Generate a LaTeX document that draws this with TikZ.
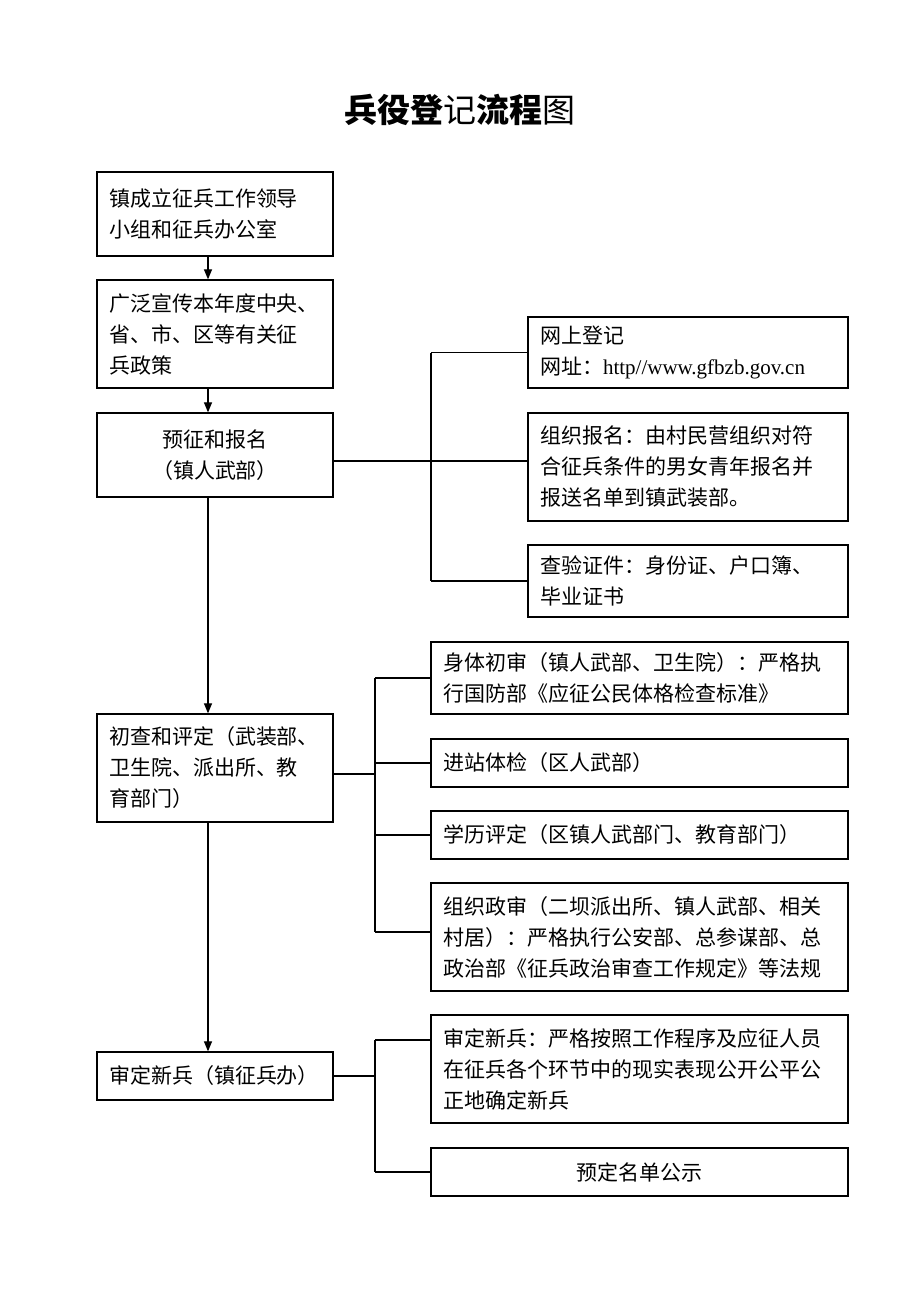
\documentclass[tikz,border=0pt]{standalone}
\usepackage{fontspec}
\setmainfont{Noto Sans CJK SC}
\newfontfamily\latin{Liberation Serif}
\usetikzlibrary{arrows.meta}
\begin{document}
\begin{tikzpicture}[x=1pt,y=-1pt,
 box/.style={draw, line width=1.3pt, inner xsep=12pt, inner ysep=0pt, align=left,
   font=\fontsize{21}{31}\selectfont},
 lbox/.style={box, minimum width=236pt, text width=212pt},
 mbox/.style={box, minimum width=320pt, text width=296pt},
 wbox/.style={box, minimum width=417pt, text width=393pt},
 link/.style={line width=1.2pt},
 arr/.style={line width=1.2pt, -{Triangle[length=10pt,width=8pt]}}]
\fill[white] (0,0) rectangle (920,1302);
\useasboundingbox (0,0) rectangle (920,1302);

\node[font=\fontsize{33}{36}\selectfont] (title) at (460,110)
  {{\bfseries 兵役登}记{\bfseries 流程}图};

% left column
\node[lbox, minimum height=84pt] (b1) at (215,214) {镇成立征兵工作领导\\小组和征兵办公室};
\node[lbox, minimum height=108pt] (b2) at (215,334) {广泛宣传本年度中央、\\省、市、区等有关征\\兵政策};
\node[lbox, minimum height=84pt, align=center] (b3) at (215,455) {预征和报名\\（镇人武部）};
\node[lbox, minimum height=108pt] (b4) at (215,768) {初查和评定（武装部、\\卫生院、派出所、教\\育部门）};
\node[lbox, minimum height=48pt] (b5) at (215,1076) {审定新兵（镇征兵办）};

\coordinate (ax) at (208,0);
\draw[arr] (b1.south -| ax) -- (b2.north -| ax);
\draw[arr] (b2.south -| ax) -- (b3.north -| ax);
\draw[arr] (b3.south -| ax) -- (b4.north -| ax);
\draw[arr] (b4.south -| ax) -- (b5.north -| ax);

% group 1
\node[mbox, minimum height=71pt] (r1) at (688,352.5) {网上登记\\网址：{\latin http//www.gfbzb.gov.cn}};
\node[mbox, minimum height=108pt] (r2) at (688,467) {组织报名：由村民营组织对符\\合征兵条件的男女青年报名并\\报送名单到镇武装部。};
\node[mbox, minimum height=72pt] (r3) at (688,581) {查验证件：身份证、户口簿、\\毕业证书};

\coordinate (t1a) at (431,352.5);
\coordinate (t1b) at (431,461);
\coordinate (t1c) at (431,581);
\draw[link] (t1a) -- (t1c);
\draw[link] (t1a) -- (r1.west);
\draw[link] (t1c) -- (r3.west);
\draw[link] (b3.east |- t1b) -- (r2.west |- t1b);

% group 2
\node[wbox, minimum height=72pt] (r4) at (639.5,678) {身体初审（镇人武部、卫生院）：严格执\\行国防部《应征公民体格检查标准》};
\node[wbox, minimum height=48pt] (r5) at (639.5,763) {进站体检（区人武部）};
\node[wbox, minimum height=48pt] (r6) at (639.5,835) {学历评定（区镇人武部门、教育部门）};
\node[wbox, minimum height=108pt] (r7) at (639.5,937) {组织政审（二坝派出所、镇人武部、相关\\村居）：严格执行公安部、总参谋部、总\\政治部《征兵政治审查工作规定》等法规};

\coordinate (t2a) at (375,678);
\coordinate (t2m) at (375,774);
\coordinate (t2b) at (375,932);
\draw[link] (t2a) -- (t2b);
\draw[link] (t2a) -- (r4.west);
\draw[link] (t2a |- r5.west) -- (r5.west);
\draw[link] (t2a |- r6.west) -- (r6.west);
\draw[link] (t2b) -- (r7.west |- t2b);
\draw[link] (b4.east |- t2m) -- (t2m);

% group 3
\node[wbox, minimum height=108pt] (r8) at (639.5,1069) {审定新兵：严格按照工作程序及应征人员\\在征兵各个环节中的现实表现公开公平公\\正地确定新兵};
\node[wbox, minimum height=48pt, align=center] (r9) at (639.5,1172) {预定名单公示};

\coordinate (t3a) at (375,1040);
\coordinate (t3b) at (375,1172);
\draw[link] (t3a) -- (t3b);
\draw[link] (t3a) -- (r8.west |- t3a);
\draw[link] (t3b) -- (r9.west);
\draw[link] (b5.east) -- (t3a |- b5.east);
\end{tikzpicture}
\end{document}
